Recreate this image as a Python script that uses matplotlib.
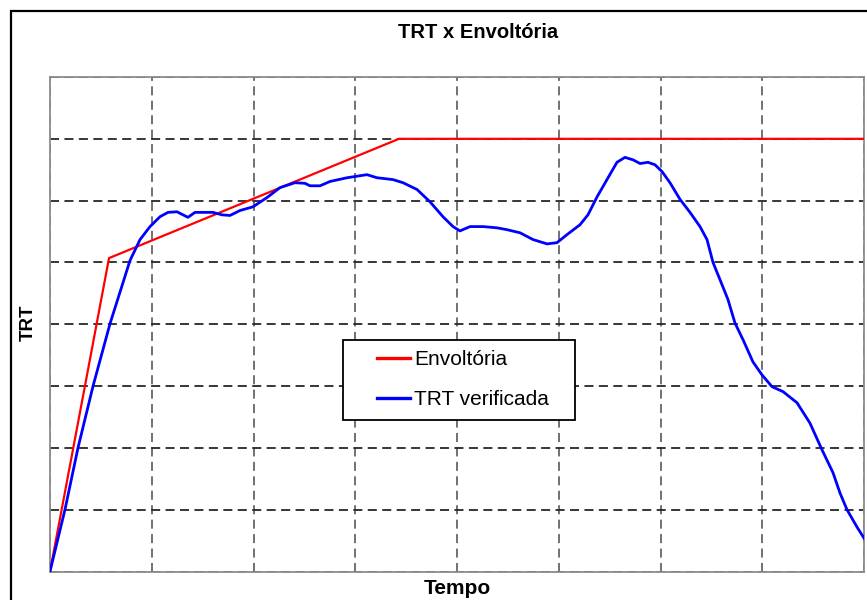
import matplotlib.pyplot as plt
from matplotlib.patches import Rectangle

# Envelope (red) corner points
env_x = [0, 0.58, 3.43, 8.0]
env_y = [0, 5.07, 7.0, 7.0]

trt_x = [0, 0.147, 0.275, 0.423, 0.590, 0.786, 0.885, 0.983, 1.081, 1.160,
         1.248, 1.307, 1.356, 1.425, 1.504, 1.602, 1.690, 1.769, 1.867, 1.995,
         2.133, 2.260, 2.408, 2.506, 2.555, 2.654, 2.752, 2.919, 3.115, 3.214,
         3.371, 3.469, 3.607, 3.735, 3.862, 3.961, 4.029, 4.128, 4.256, 4.393,
         4.491, 4.619, 4.747, 4.885, 4.983, 5.081, 5.209, 5.287, 5.376, 5.474,
         5.572, 5.651, 5.730, 5.799, 5.877, 5.946, 6.015, 6.093, 6.192, 6.290,
         6.388, 6.457, 6.516, 6.585, 6.663, 6.732, 6.811, 6.909, 6.998, 7.096,
         7.204, 7.342, 7.469, 7.587, 7.695, 7.764, 7.833, 7.931, 8.0]
trt_y = [0, 1.00, 2.00, 3.00, 4.01, 5.03, 5.37, 5.58, 5.74, 5.81,
         5.82, 5.77, 5.73, 5.81, 5.81, 5.81, 5.77, 5.76, 5.84, 5.90,
         6.05, 6.21, 6.29, 6.28, 6.24, 6.24, 6.31, 6.37, 6.42, 6.37,
         6.34, 6.29, 6.18, 5.98, 5.74, 5.58, 5.51, 5.58, 5.58, 5.56,
         5.53, 5.48, 5.37, 5.30, 5.32, 5.45, 5.61, 5.77, 6.06, 6.34,
         6.62, 6.70, 6.66, 6.60, 6.62, 6.58, 6.47, 6.29, 6.02, 5.81,
         5.58, 5.37, 5.00, 4.72, 4.40, 4.02, 3.75, 3.39, 3.18, 2.99,
         2.91, 2.73, 2.40, 1.97, 1.60, 1.27, 1.00, 0.72, 0.54]

grid_ticks = [0, 1, 2, 3, 4, 5, 6, 7, 8]

plt.rcParams['font.family'] = ['Liberation Sans', 'DejaVu Sans']

fig = plt.figure(figsize=(8.67, 6), dpi=100)
ax = fig.add_axes([50 / 867, 1 - 571.5 / 600, 814 / 867, 494.5 / 600])

# outer frame around the whole chart
fig.patches.append(Rectangle((11 / 867, -0.1), 1.2, 1.1 - 11 / 600,
                             transform=fig.transFigure, fill=False,
                             edgecolor='black', linewidth=1.6))

ax.plot(env_x, env_y, color='#ff0000', linewidth=1.6, label='Envoltória', zorder=3)
ax.plot(trt_x, trt_y, color='#0000ff', linewidth=2.0, label='TRT verificada', zorder=3)

ax.set_xlim(0, 8)
ax.set_ylim(0, 8)
ax.set_xticks(grid_ticks)
ax.set_yticks(grid_ticks)
ax.tick_params(length=0, labelbottom=False, labelleft=False)
ax.xaxis.grid(True, linestyle=(0, (5, 3)), color='0.4', linewidth=1.3)
ax.yaxis.grid(True, linestyle=(0, (5, 3)), color='0.15', linewidth=1.3)

for s in ax.spines.values():
    s.set_color('0.55')
    s.set_linewidth(1.3)

fig.text(478 / 867, 1 - 32 / 600, 'TRT x Envoltória', ha='center', va='center',
         fontsize=14.5, fontweight='bold')
fig.text(457 / 867, 1 - 588 / 600, 'Tempo', ha='center', va='center',
         fontsize=15, fontweight='bold')
fig.text(28 / 867, 1 - 323 / 600, 'TRT', ha='center', va='center', rotation=90,
         fontsize=13.5, fontweight='bold')

# legend box drawn separately so the padding matches the reference
ax.add_patch(Rectangle((0.36, 0.306), 0.285, 0.162, transform=ax.transAxes,
                       facecolor='white', edgecolor='black', linewidth=1.3,
                       zorder=4))
leg = ax.legend(loc='upper left', bbox_to_anchor=(0.4017, 0.447), fontsize=15,
                frameon=False, labelspacing=1.0, handlelength=1.6,
                handletextpad=0.2, borderpad=0, borderaxespad=0)
leg.set_zorder(5)
for h in leg.get_lines():
    h.set_linewidth(2.4)

fig.savefig('out.png', dpi=100)
